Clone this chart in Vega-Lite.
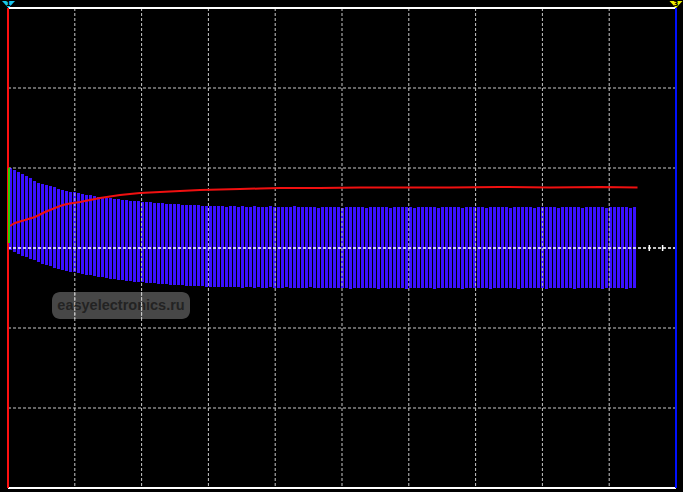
{
  "$schema": "https://vega.github.io/schema/vega-lite/v6.json",
  "width": 668,
  "height": 480,
  "autosize": {"type": "none"},
  "padding": {"left": 8, "top": 8, "right": 7, "bottom": 4},
  "background": "black",
  "config": {
    "view": {"stroke": null},
    "scale": {"continuousPadding": 0},
    "axis": {"domain": false, "ticks": false, "labels": false, "title": null, "grid": false}
  },
  "layer": [
    {
      "data": {"values": [{"label": "easyelectronics.ru"}]},
      "mark": {"type": "rect", "color": "#474747", "cornerRadius": 8},
      "encoding": {
        "x": {"datum": 44, "type": "quantitative", "scale": {"domain": [0, 668], "nice": false, "zero": false, "padding": 0}},
        "x2": {"datum": 182},
        "y": {"datum": -44, "type": "quantitative", "scale": {"domain": [-240, 240], "nice": false, "zero": false, "padding": 0}},
        "y2": {"datum": -71}
      }
    },
    {
      "data": {"values": [
        {"t":2.5,"hi":80,"lo":-2},{"t":6.5,"hi":78,"lo":-4},{"t":10.5,"hi":76,"lo":-6},{"t":14.5,"hi":74,"lo":-8},
        {"t":18.5,"hi":72,"lo":-9},{"t":22.5,"hi":70,"lo":-11},{"t":26.5,"hi":67,"lo":-12},{"t":30.5,"hi":65,"lo":-14},
        {"t":34.5,"hi":64,"lo":-16},{"t":38.5,"hi":63,"lo":-17},{"t":42.5,"hi":62,"lo":-18},{"t":46.5,"hi":61,"lo":-20},
        {"t":50.5,"hi":59,"lo":-21},{"t":54.5,"hi":58,"lo":-22},{"t":58.5,"hi":57,"lo":-23},{"t":62.5,"hi":56,"lo":-24},
        {"t":66.5,"hi":56,"lo":-24},{"t":70.5,"hi":55,"lo":-25},{"t":74.5,"hi":54,"lo":-26},{"t":78.5,"hi":53,"lo":-27},
        {"t":82.5,"hi":53,"lo":-27},{"t":86.5,"hi":52,"lo":-28},{"t":90.5,"hi":51,"lo":-29},{"t":94.5,"hi":51,"lo":-29},
        {"t":98.5,"hi":50,"lo":-30},{"t":102.5,"hi":50,"lo":-31},{"t":106.5,"hi":49,"lo":-31},{"t":110.5,"hi":49,"lo":-32},
        {"t":114.5,"hi":48,"lo":-32},{"t":118.5,"hi":48,"lo":-33},{"t":122.5,"hi":47,"lo":-33},{"t":126.5,"hi":47,"lo":-34},
        {"t":130.5,"hi":47,"lo":-34},{"t":134.5,"hi":46,"lo":-34},{"t":138.5,"hi":46,"lo":-35},{"t":142.5,"hi":46,"lo":-35},
        {"t":146.5,"hi":45,"lo":-35},{"t":150.5,"hi":45,"lo":-36},{"t":154.5,"hi":45,"lo":-36},{"t":158.5,"hi":44,"lo":-36},
        {"t":162.5,"hi":44,"lo":-37},{"t":166.5,"hi":44,"lo":-37},{"t":170.5,"hi":44,"lo":-37},{"t":174.5,"hi":43,"lo":-37},
        {"t":178.5,"hi":43,"lo":-38},{"t":182.5,"hi":43,"lo":-38},{"t":186.5,"hi":43,"lo":-38},{"t":190.5,"hi":43,"lo":-38},
        {"t":194.5,"hi":42,"lo":-38},{"t":198.5,"hi":42,"lo":-39},{"t":202.5,"hi":42,"lo":-39},{"t":206.5,"hi":42,"lo":-39},
        {"t":210.5,"hi":42,"lo":-39},{"t":214.5,"hi":42,"lo":-39},{"t":218.5,"hi":41,"lo":-39},{"t":222.5,"hi":42,"lo":-39},
        {"t":226.5,"hi":42,"lo":-39},{"t":230.5,"hi":41,"lo":-39},{"t":234.5,"hi":42,"lo":-40},{"t":238.5,"hi":41,"lo":-39},
        {"t":242.5,"hi":41,"lo":-39},{"t":246.5,"hi":42,"lo":-40},{"t":250.5,"hi":41,"lo":-39},{"t":254.5,"hi":41,"lo":-40},
        {"t":258.5,"hi":41,"lo":-40},{"t":262.5,"hi":42,"lo":-39},{"t":266.5,"hi":41,"lo":-40},{"t":270.5,"hi":41,"lo":-40},
        {"t":274.5,"hi":41,"lo":-40},{"t":278.5,"hi":41,"lo":-39},{"t":282.5,"hi":41,"lo":-40},{"t":286.5,"hi":42,"lo":-40},
        {"t":290.5,"hi":41,"lo":-40},{"t":294.5,"hi":41,"lo":-40},{"t":298.5,"hi":41,"lo":-40},{"t":302.5,"hi":41,"lo":-39},
        {"t":306.5,"hi":41,"lo":-40},{"t":310.5,"hi":40,"lo":-40},{"t":314.5,"hi":41,"lo":-40},{"t":318.5,"hi":41,"lo":-40},
        {"t":322.5,"hi":41,"lo":-40},{"t":326.5,"hi":41,"lo":-40},{"t":330.5,"hi":41,"lo":-40},{"t":334.5,"hi":40,"lo":-40},
        {"t":338.5,"hi":41,"lo":-40},{"t":342.5,"hi":41,"lo":-41},{"t":346.5,"hi":41,"lo":-40},{"t":350.5,"hi":41,"lo":-40},
        {"t":354.5,"hi":41,"lo":-40},{"t":358.5,"hi":40,"lo":-40},{"t":362.5,"hi":41,"lo":-40},{"t":366.5,"hi":41,"lo":-40},
        {"t":370.5,"hi":41,"lo":-41},{"t":374.5,"hi":41,"lo":-40},{"t":378.5,"hi":41,"lo":-40},{"t":382.5,"hi":40,"lo":-40},
        {"t":386.5,"hi":41,"lo":-40},{"t":390.5,"hi":41,"lo":-40},{"t":394.5,"hi":41,"lo":-40},{"t":398.5,"hi":41,"lo":-41},
        {"t":402.5,"hi":41,"lo":-40},{"t":406.5,"hi":40,"lo":-40},{"t":410.5,"hi":41,"lo":-40},{"t":414.5,"hi":41,"lo":-40},
        {"t":418.5,"hi":41,"lo":-40},{"t":422.5,"hi":41,"lo":-40},{"t":426.5,"hi":41,"lo":-41},{"t":430.5,"hi":40,"lo":-40},
        {"t":434.5,"hi":41,"lo":-40},{"t":438.5,"hi":41,"lo":-40},{"t":442.5,"hi":41,"lo":-40},{"t":446.5,"hi":41,"lo":-40},
        {"t":450.5,"hi":41,"lo":-40},{"t":454.5,"hi":40,"lo":-41},{"t":458.5,"hi":41,"lo":-40},{"t":462.5,"hi":41,"lo":-40},
        {"t":466.5,"hi":41,"lo":-40},{"t":470.5,"hi":41,"lo":-40},{"t":474.5,"hi":41,"lo":-40},{"t":478.5,"hi":40,"lo":-40},
        {"t":482.5,"hi":41,"lo":-41},{"t":486.5,"hi":41,"lo":-40},{"t":490.5,"hi":41,"lo":-40},{"t":494.5,"hi":41,"lo":-40},
        {"t":498.5,"hi":41,"lo":-40},{"t":502.5,"hi":40,"lo":-40},{"t":506.5,"hi":41,"lo":-40},{"t":510.5,"hi":41,"lo":-41},
        {"t":514.5,"hi":41,"lo":-40},{"t":518.5,"hi":41,"lo":-40},{"t":522.5,"hi":41,"lo":-40},{"t":526.5,"hi":40,"lo":-40},
        {"t":530.5,"hi":41,"lo":-40},{"t":534.5,"hi":41,"lo":-40},{"t":538.5,"hi":41,"lo":-41},{"t":542.5,"hi":41,"lo":-40},
        {"t":546.5,"hi":41,"lo":-40},{"t":550.5,"hi":40,"lo":-40},{"t":554.5,"hi":41,"lo":-40},{"t":558.5,"hi":41,"lo":-40},
        {"t":562.5,"hi":41,"lo":-40},{"t":566.5,"hi":41,"lo":-41},{"t":570.5,"hi":41,"lo":-40},{"t":574.5,"hi":40,"lo":-40},
        {"t":578.5,"hi":41,"lo":-40},{"t":582.5,"hi":41,"lo":-40},{"t":586.5,"hi":41,"lo":-40},{"t":590.5,"hi":41,"lo":-40},
        {"t":594.5,"hi":41,"lo":-41},{"t":598.5,"hi":40,"lo":-40},{"t":602.5,"hi":41,"lo":-40},{"t":606.5,"hi":41,"lo":-40},
        {"t":610.5,"hi":41,"lo":-40},{"t":614.5,"hi":41,"lo":-40},{"t":618.5,"hi":41,"lo":-41},{"t":622.5,"hi":40,"lo":-40},
        {"t":626.5,"hi":41,"lo":-40}
      ]},
      "mark": {"type": "bar", "color": "#3a10ff", "width": 3},
      "encoding": {
        "x": {"field": "t", "type": "quantitative"},
        "y": {"field": "hi", "type": "quantitative"},
        "y2": {"field": "lo"}
      }
    },
    {
      "data": {"values": [{"g": 66.8}, {"g": 133.6}, {"g": 200.4}, {"g": 267.2}, {"g": 334}, {"g": 400.8}, {"g": 467.6}, {"g": 534.4}, {"g": 601.2}]},
      "mark": {"type": "rule", "color": "#c8c8c8", "strokeWidth": 1, "strokeDash": [3, 2]},
      "encoding": {"x": {"field": "g", "type": "quantitative"}}
    },
    {
      "data": {"values": [{"g": -160}, {"g": -80}, {"g": 80}, {"g": 160}]},
      "mark": {"type": "rule", "color": "#c8c8c8", "strokeWidth": 1, "strokeDash": [3, 2]},
      "encoding": {"y": {"field": "g", "type": "quantitative"}}
    },
    {
      "data": {"values": [
        {"t":2,"v":22},{"t":7,"v":25},{"t":12,"v":26.5},{"t":17,"v":28},{"t":22,"v":29.5},{"t":27,"v":31},
        {"t":32,"v":33.5},{"t":37,"v":36},{"t":42,"v":38},{"t":47,"v":40},{"t":52,"v":42},{"t":57,"v":43.5},
        {"t":62,"v":44.5},{"t":72,"v":46},{"t":82,"v":48},{"t":92,"v":50},{"t":102,"v":51.5},{"t":112,"v":53},
        {"t":122,"v":54},{"t":132,"v":55},{"t":142,"v":55.5},{"t":152,"v":56},{"t":172,"v":57},{"t":192,"v":58},
        {"t":212,"v":58.5},{"t":232,"v":59},{"t":252,"v":59.5},{"t":272,"v":60},{"t":312,"v":60},{"t":352,"v":60.5},
        {"t":392,"v":60.5},{"t":442,"v":60.5},{"t":492,"v":61},{"t":542,"v":60.5},{"t":592,"v":61},{"t":629.5,"v":60.5}
      ]},
      "mark": {"type": "line", "color": "#f01010", "strokeWidth": 2},
      "encoding": {
        "x": {"field": "t", "type": "quantitative"},
        "y": {"field": "v", "type": "quantitative"}
      }
    },
    {
      "data": {"values": [{"v": 0}]},
      "mark": {"type": "rule", "color": "white", "strokeWidth": 1.5, "strokeDash": [3, 2]},
      "encoding": {"y": {"field": "v", "type": "quantitative"}}
    },
    {
      "data": {"values": [{"t": 641.3}, {"t": 654.6}]},
      "mark": {"type": "rule", "color": "white", "strokeWidth": 1.5},
      "encoding": {
        "x": {"field": "t", "type": "quantitative"},
        "y": {"datum": -3, "type": "quantitative"},
        "y2": {"datum": 3}
      }
    },
    {
      "data": {"values": [{"v": 240}, {"v": -240}]},
      "mark": {"type": "rule", "color": "white", "strokeWidth": 2},
      "encoding": {"y": {"field": "v", "type": "quantitative"}}
    },
    {
      "data": {"values": [{"t": 0}]},
      "mark": {"type": "rule", "color": "#ff1010", "strokeWidth": 2},
      "encoding": {"x": {"field": "t", "type": "quantitative"}}
    },
    {
      "data": {"values": [{"t": 668}]},
      "mark": {"type": "rule", "color": "#0010ff", "strokeWidth": 2},
      "encoding": {"x": {"field": "t", "type": "quantitative"}}
    },
    {
      "data": {"values": [{"t": 1, "v": 80, "v2": 5}]},
      "mark": {"type": "rule", "color": "#30d000", "strokeWidth": 2},
      "encoding": {
        "x": {"field": "t", "type": "quantitative"},
        "y": {"field": "v", "type": "quantitative"},
        "y2": {"field": "v2"}
      }
    },
    {
      "data": {"values": [{"label": "easyelectronics.ru"}]},
      "mark": {"type": "text", "color": "#232323", "font": "Liberation Sans", "fontWeight": "bold", "fontSize": 14.5, "align": "center", "baseline": "middle"},
      "encoding": {
        "x": {"datum": 113, "type": "quantitative"},
        "y": {"datum": -57.5, "type": "quantitative"},
        "text": {"field": "label"}
      }
    },
    {
      "data": {"values": [{"g": 66.8}, {"g": 133.6}]},
      "mark": {"type": "rule", "color": "#c8c8c8", "strokeWidth": 1, "strokeDash": [3, 2]},
      "encoding": {
        "x": {"field": "g", "type": "quantitative"},
        "y": {"datum": -44, "type": "quantitative"},
        "y2": {"datum": -71}
      }
    },
    {
      "data": {"values": [{"t": 0.5, "v": 243.5, "ch": "1"}, {"t": 668, "v": 243.5, "ch": "3"}]},
      "mark": {"type": "point", "filled": true, "opacity": 1, "size": 169, "shape": "M-1,-0.55L1,-0.55L0,0.55Z"},
      "encoding": {
        "x": {"field": "t", "type": "quantitative"},
        "y": {"field": "v", "type": "quantitative"},
        "color": {"field": "ch", "type": "nominal", "scale": {"domain": ["1", "3"], "range": ["#18c6ee", "#f0f000"]}, "legend": null}
      }
    },
    {
      "data": {"values": [{"t": 0.5, "v": 244.5, "ch": "1"}, {"t": 668, "v": 244.5, "ch": "3"}]},
      "mark": {"type": "text", "color": "black", "fontSize": 7, "fontWeight": "bold", "font": "DejaVu Sans", "align": "center", "baseline": "middle"},
      "encoding": {
        "x": {"field": "t", "type": "quantitative"},
        "y": {"field": "v", "type": "quantitative"},
        "text": {"field": "ch"}
      }
    }
  ]
}
